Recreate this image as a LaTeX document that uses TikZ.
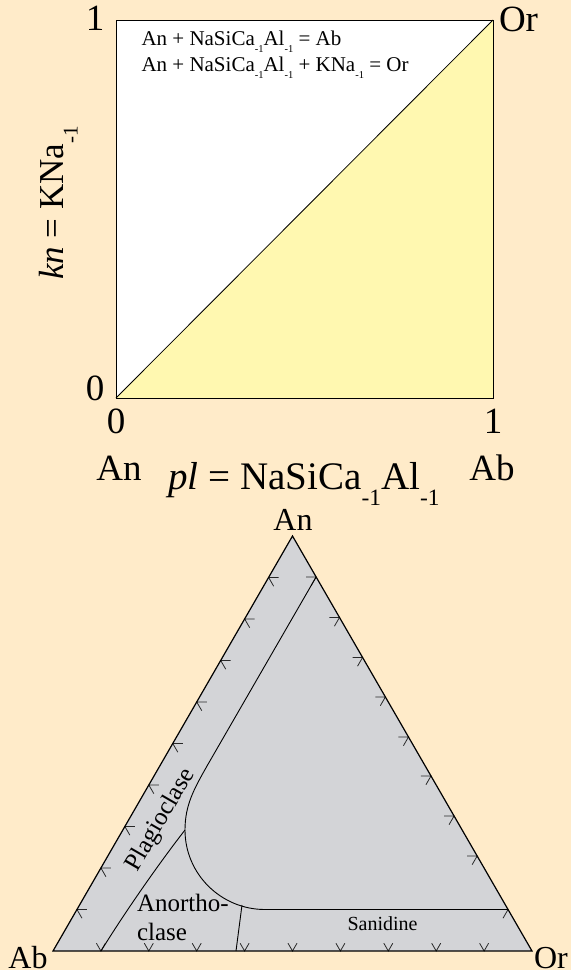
\documentclass[tikz,border=0pt]{standalone}
\usepackage{fontspec}
\setmainfont{Liberation Serif}
\usepackage{graphicx}
\definecolor{bgc}{RGB}{255,235,201}
\definecolor{yelc}{RGB}{255,248,176}
\definecolor{tric}{RGB}{211,212,215}
\definecolor{tickc}{RGB}{40,40,40}
\newcommand\subm[2]{\raisebox{-#2em}{\scalebox{#1}{-1}}}
\begin{document}
\begin{tikzpicture}[x=1pt,y=-1pt,
  txt/.style={inner sep=0pt,outer sep=0pt},
  big/.style={txt,font=\fontsize{37}{40}\selectfont},
  axislabx/.style={txt,font=\fontsize{39}{42}\selectfont},
  axislaby/.style={txt,font=\fontsize{35}{40}\selectfont},
  eqn/.style={txt,font=\fontsize{21}{24}\selectfont},
  vtx/.style={txt,font=\fontsize{32}{36}\selectfont},
  reg/.style={txt,font=\fontsize{25}{28}\selectfont},
  san/.style={txt,font=\fontsize{20}{24}\selectfont},
  edge/.style={line width=1.2pt,black},
  bnd/.style={line width=0.9pt,black},
  tk/.style={line width=0.8pt,tickc}]
\fill[bgc] (0,0) rectangle (571,970);
\useasboundingbox (0,0) rectangle (571,970);
% ---------- square ----------
\coordinate (SA) at (116,398);
\coordinate (SB) at (493,398);
\coordinate (SC) at (493,20);
\coordinate (SD) at (116,20);
\fill[white] (SA) -- (SD) -- (SC) -- cycle;
\fill[yelc] (SA) -- (SB) -- (SC) -- cycle;
\draw[line width=1pt] (SA) -- (SB) -- (SC) -- (SD) -- cycle;
\draw[line width=0.8pt] (SA) -- (SC);
\node[big,anchor=base] (one1) at (95,30) {1};
\node[big,anchor=base west] (orT) at (499,31) {Or};
\node[big,anchor=base] (zero1) at (95,400) {0};
\node[big,anchor=base] (zero2) at (116,433) {0};
\node[big,anchor=base] (one2) at (493,433) {1};
\node[big,anchor=base] (anS) at (119,480) {An};
\node[big,anchor=base] (abS) at (492,480) {Ab};
\node[axislabx,anchor=base] (plx) at (304,489) {\textit{pl} = NaSiCa\subm{0.6}{0.42}Al\subm{0.6}{0.42}};
\node[axislaby,anchor=base,rotate=90] (kny) at (63,203) {\textit{kn} = KNa\subm{0.6}{0.42}};
\node[eqn,anchor=base west] (eq1) at (141.5,45) {An + NaSiCa\subm{0.5}{0.36}Al\subm{0.5}{0.36} = Ab};
\node[eqn,anchor=base west] (eq2) at (141.5,71) {An + NaSiCa\subm{0.5}{0.36}Al\subm{0.5}{0.36} + KNa\subm{0.5}{0.36} = Or};
% ---------- triangle ----------
\coordinate (TAb) at (53,951);
\coordinate (TOr) at (532,951);
\coordinate (TAn) at (292.5,536);
\fill[tric] (TAb) -- (TAn) -- (TOr) -- cycle;
% ticks left edge
\foreach \i in {1,...,9}{
  \pgfmathsetmacro\h{41.5*\i}
  \draw[tk] ({53+0.57735*\h+10},{951-\h}) -- ({53+0.57735*\h},{951-\h}) -- ++(5,8.66);
}
% ticks right edge
\foreach \h in {374,333.5,293.5,254,214,175,135,95,41.5}{
  \draw[tk] ({532-0.57735*\h-10},{951-\h}) -- ({532-0.57735*\h},{951-\h}) -- ++(-5,8.66);
}
% ticks bottom edge
\foreach \i in {1,...,9}{
  \draw[tk] ({53+47.9*\i-4.5},943.2) -- ({53+47.9*\i},951) -- ({53+47.9*\i+4.5},943.2);
}
% boundaries
\coordinate (S0) at (316.1,577);
\coordinate (S1) at (207,766);
\coordinate (S2) at (185,830);
\coordinate (S3) at (265,909.5);
\coordinate (S4) at (508,909.5);
\coordinate (P0) at (101,951);
\coordinate (D0) at (242,905);
\coordinate (D1) at (236,951);
\draw[bnd] (S0) -- (S1) .. controls (194,789) and (185,805) .. (S2)
  .. controls (185,874) and (221,909.5) .. (S3) -- (S4);
\draw[bnd] (P0) .. controls (125,912) and (160,862) .. (S2);
\draw[bnd] (D0) -- (D1);
\draw[edge,line join=miter] (TAb) -- (TAn) -- (TOr) -- cycle;
% labels
\node[vtx,anchor=base] (anT) at (293,530.5) {An};
\node[vtx,anchor=base] (abT) at (28,968) {Ab};
\node[vtx,anchor=base west] (orTr) at (534,968) {Or};
\node[reg,rotate=60] (plag) at (161,820) {Plagioclase};
\node[reg,anchor=base west] (ano1) at (137,911) {Anortho-};
\node[reg,anchor=base west] (ano2) at (137,940) {clase};
\node[san,anchor=base] (sani) at (382.5,930.5) {Sanidine};
\end{tikzpicture}
\end{document}
